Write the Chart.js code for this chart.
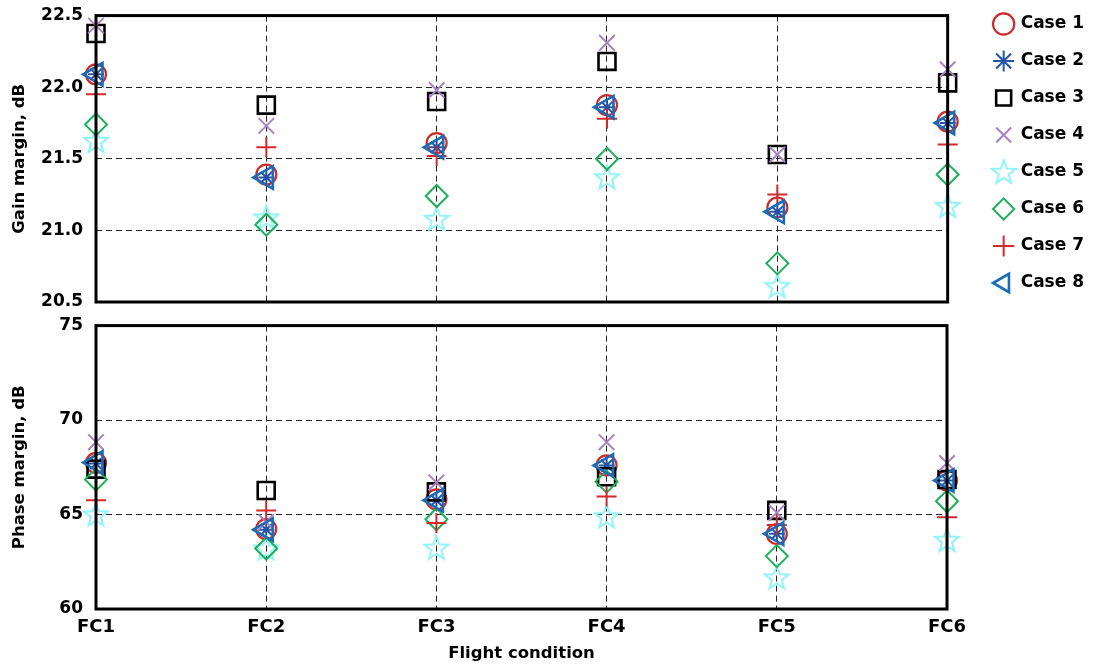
<!DOCTYPE html>
<html>
<head>
<meta charset="utf-8">
<script src="https://cdn.jsdelivr.net/npm/chart.js@4.4.1/dist/chart.umd.min.js"></script>
<style>
  body { margin: 0; background: #fff; }
  #gainBox { position: absolute; left: 0; top: 0; }
  #phaseBox { position: absolute; left: 0; top: 310px; }
</style>
</head>
<body>
<canvas id="gainBox" width="1094" height="330"></canvas>
<canvas id="phaseBox" width="1094" height="354"></canvas>
<script>
const flightConditions = ['FC1', 'FC2', 'FC3', 'FC4', 'FC5', 'FC6'];
const caseNames = ['Case 1', 'Case 2', 'Case 3', 'Case 4', 'Case 5', 'Case 6', 'Case 7', 'Case 8'];

// gain margin, dB
const gainCase1 = [22.09, 21.39, 21.61, 21.875, 21.16, 21.76];
const gainCase2 = [22.09, 21.37, 21.58, 21.86, 21.13, 21.75];
const gainCase3 = [22.375, 21.875, 21.9, 22.18, 21.53, 22.03];
const gainCase4 = [22.43, 21.73, 21.98, 22.31, 21.53, 22.125];
const gainCase5 = [21.625, 21.09, 21.08, 21.37, 20.61, 21.17];
const gainCase6 = [21.74, 21.04, 21.24, 21.5, 20.77, 21.39];
const gainCase7 = [21.95, 21.58, 21.52, 21.78, 21.25, 21.6];
const gainCase8 = [22.09, 21.37, 21.58, 21.86, 21.13, 21.75];

// phase margin, dB
const phaseCase1 = [67.73, 64.23, 65.8, 67.6, 63.97, 66.8];
const phaseCase2 = [67.7, 64.2, 65.75, 67.6, 63.98, 66.8];
const phaseCase3 = [67.4, 66.27, 66.2, 67.0, 65.22, 66.85];
const phaseCase4 = [68.83, 64.6, 66.7, 68.83, 65.1, 67.73];
const phaseCase5 = [65.0, 63.2, 63.24, 64.9, 61.67, 63.65];
const phaseCase6 = [66.85, 63.2, 64.75, 66.74, 62.8, 65.7];
const phaseCase7 = [65.75, 65.22, 64.55, 65.96, 64.45, 64.86];
const phaseCase8 = [67.75, 64.2, 65.75, 67.6, 63.98, 66.8];

const gainTicks = [20.5, 21.0, 21.5, 22.0, 22.5];
const phaseTicks = [60, 65, 70, 75];

const FONT = '"DejaVu Sans", "Liberation Sans", Arial, sans-serif';

// five point star outline, chart.js has none
function starImage() {
  const c = document.createElement('canvas');
  c.width = 28; c.height = 28;
  const g = c.getContext('2d');
  g.strokeStyle = '#8ff2f6';
  g.lineWidth = 2;
  g.beginPath();
  for (let i = 0; i < 10; i++) {
    const r = i % 2 ? 5.2 : 12.5;
    const a = -Math.PI / 2 + i * Math.PI / 5;
    const px = 14 + r * Math.cos(a), py = 14.8 + r * Math.sin(a);
    i ? g.lineTo(px, py) : g.moveTo(px, py);
  }
  g.closePath();
  g.stroke();
  return c;
}
const star = starImage();

const styles = [
  { color: '#cc2b2b', pointStyle: 'circle', radius: 10, width: 2.2 },
  { color: '#2553a6', pointStyle: 'star', radius: 8, width: 2 },
  { color: '#000000', pointStyle: 'rect', radius: 12, width: 2.6 },
  { color: '#a883c4', pointStyle: 'crossRot', radius: 11, width: 2 },
  { color: '#8ff2f6', pointStyle: star, radius: 12, width: 2 },
  { color: '#1bb05a', pointStyle: 'rectRot', radius: 11, width: 2 },
  { color: '#d22a2a', pointStyle: 'cross', radius: 10, width: 2 },
  { color: '#1a6cb6', pointStyle: 'triangle', radius: 13, width: 2.6, rotation: -90 }
];

function makeSets(series) {
  return series.map((vals, i) => ({
    label: caseNames[i],
    data: vals,
    showLine: false,
    pointStyle: styles[i].pointStyle,
    pointRadius: styles[i].radius,
    pointHoverRadius: styles[i].radius,
    pointBorderColor: styles[i].color,
    pointBackgroundColor: 'rgba(0,0,0,0)',
    pointBorderWidth: styles[i].width,
    pointRotation: styles[i].rotation || 0,
    borderColor: styles[i].color,
    backgroundColor: 'rgba(0,0,0,0)',
    order: 8 - i
  }));
}

const frame = {
  id: 'frame',
  afterDraw(chart) {
    const a = chart.chartArea, ctx = chart.ctx;
    ctx.save();
    ctx.strokeStyle = '#000';
    ctx.lineWidth = 3;
    ctx.strokeRect(a.left, a.top, a.right - a.left, a.bottom - a.top);
    ctx.restore();
  }
};

const gridOpts = { color: '#222', lineWidth: 1, drawTicks: false };
const dashBorder = { display: false, dash: [6, 4] };

function yAxis(ticks, title, decimals, topPad) {
  return {
    type: 'linear',
    min: ticks[0],
    max: ticks[ticks.length - 1],
    afterBuildTicks: s => { s.ticks = ticks.map(v => ({ value: v })); },
    afterFit: s => { s.width = 96; s.paddingTop = topPad; s.paddingBottom = 0; },
    grid: gridOpts,
    border: dashBorder,
    ticks: {
      color: '#000',
      padding: 13,
      font: { family: FONT, size: 17, weight: 'bold' },
      callback: v => v.toFixed(decimals)
    },
    title: {
      display: true,
      text: title,
      color: '#000',
      padding: { top: 10, bottom: 0 },
      font: { family: FONT, size: 16.5, weight: 'bold' }
    }
  };
}

Chart.defaults.animation = false;

new Chart(document.getElementById('gainBox'), {
  type: 'line',
  data: {
    labels: flightConditions,
    datasets: makeSets([gainCase1, gainCase2, gainCase3, gainCase4, gainCase5, gainCase6, gainCase7, gainCase8])
  },
  options: {
    responsive: false,
    layout: { padding: { top: -4.5, right: 0, left: 0, bottom: 0 } },
    plugins: {
      tooltip: { enabled: false },
      legend: {
        position: 'right',
        align: 'start',
        labels: {
          usePointStyle: true,
          boxWidth: 17,
          boxHeight: 15,
          color: '#000',
          padding: 20,
          font: { family: FONT, size: 17, weight: 'bold' },
          sort: (a, b) => a.datasetIndex - b.datasetIndex
        }
      }
    },
    scales: {
      x: {
        offset: false,
        grid: gridOpts,
        border: dashBorder,
        ticks: { display: false },
        afterFit: s => { s.height = 28; }
      },
      y: yAxis(gainTicks, 'Gain margin, dB', 1, 14),
      pad: {
        type: 'linear',
        position: 'right',
        display: true,
        grid: { display: false },
        border: { display: false },
        ticks: { display: false },
        afterFit: s => { s.width = 27.5; }
      }
    }
  },
  plugins: [frame]
});

new Chart(document.getElementById('phaseBox'), {
  type: 'line',
  data: {
    labels: flightConditions,
    datasets: makeSets([phaseCase1, phaseCase2, phaseCase3, phaseCase4, phaseCase5, phaseCase6, phaseCase7, phaseCase8])
  },
  options: {
    responsive: false,
    layout: { padding: { top: 12, right: 147, left: 0, bottom: 0 } },
    plugins: { tooltip: { enabled: false }, legend: { display: false } },
    scales: {
      x: {
        offset: false,
        grid: gridOpts,
        border: dashBorder,
        ticks: {
          color: '#000',
          padding: 8,
          maxRotation: 0,
          font: { family: FONT, size: 18, weight: 'bold' }
        },
        title: {
          display: true,
          text: 'Flight condition',
          color: '#000',
          padding: { top: 1, bottom: 0 },
          font: { family: FONT, size: 16.5, weight: 'bold' }
        },
        afterFit: s => { s.height = 55; }
      },
      y: yAxis(phaseTicks, 'Phase margin, dB', 0, 0)
    }
  },
  plugins: [frame]
});
</script>
</body>
</html>
